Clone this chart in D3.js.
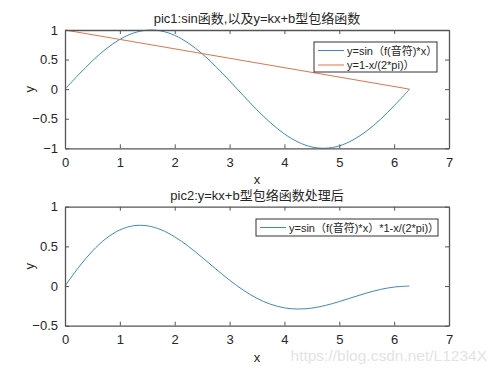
<!DOCTYPE html>
<html>
<head>
<meta charset="utf-8">
<script src="https://cdn.jsdelivr.net/npm/d3@7"></script>
<style>
  body { margin: 0; background: #fff; }
  text { font-family: "Liberation Sans", Arial, "Noto Sans CJK SC", sans-serif; fill: #262626; }
</style>
</head>
<body>
<div id="chart"></div>
<script>
// values
var xs = [0, 0.25, 0.5, 0.75, 1, 1.25, 1.5, 1.75, 2, 2.25, 2.5, 2.75, 3, 3.25, 3.5, 3.75,
          4, 4.25, 4.5, 4.75, 5, 5.25, 5.5, 5.75, 6, 6.25, 6.28];
var sinY = [0, 0.247, 0.479, 0.682, 0.841, 0.949, 0.997, 0.984, 0.909, 0.778, 0.598, 0.382, 0.141, -0.108, -0.351, -0.572,
            -0.757, -0.895, -0.978, -0.999, -0.959, -0.859, -0.706, -0.510, -0.279, -0.033, 0];
var envX = [0, 6.28];
var envY = [1, 0];
var prodY = [0, 0.237, 0.441, 0.600, 0.707, 0.760, 0.759, 0.710, 0.620, 0.500, 0.360, 0.215, 0.074, -0.052, -0.155, -0.230,
             -0.275, -0.290, -0.278, -0.244, -0.196, -0.141, -0.088, -0.043, -0.013, -0.001, 0];

var xTicks = [0, 1, 2, 3, 4, 5, 6, 7];
var yTicks1 = [-1, -0.5, 0, 0.5, 1];
var yTicks2 = [-0.5, 0, 0.5, 1];

var title1 = "pic1:sin函数,以及y=kx+b型包络函数";
var title2 = "pic2:y=kx+b型包络函数处理后";
var legend1 = ["y=sin（f(音符)*x）", "y=1-x/(2*pi)）"];
var legend2 = ["y=sin（f(音符)*x）*1-x/(2*pi)）"];

var blue = "#3f87bf", orange = "#d8764f", axisColor = "#555";

var W = 497, H = 373;
var svg = d3.select("#chart").append("svg")
    .attr("width", W)
    .attr("height", H);

function panel(top, bottom, yDomain, yTicks, title, series, legend, legBox) {
    var x = d3.scaleLinear().domain([0, 7]).range([65, 449]);
    var y = d3.scaleLinear().domain(yDomain).range([bottom, top]);
    var g = svg.append("g");

    // lines
    var line = d3.line()
        .x(function (d) { return x(d[0]); })
        .y(function (d) { return y(d[1]); })
        .curve(d3.curveCatmullRom);
    series.forEach(function (s) {
        g.append("path")
            .datum(d3.zip(s.x, s.y))
            .attr("d", line)
            .attr("fill", "none")
            .attr("stroke", s.color)
            .attr("stroke-width", 1);
    });

    // axes, ticks inward, box on all sides
    var fmt = function (d) { return d3.format("")(d); };
    g.append("g").attr("transform", "translate(0," + bottom + ")")
        .call(d3.axisBottom(x).tickValues(xTicks).tickSizeInner(-4).tickSizeOuter(0).tickPadding(9).tickFormat(fmt));
    g.append("g").attr("transform", "translate(0," + top + ")")
        .call(d3.axisTop(x).tickValues(xTicks).tickSizeInner(-4).tickSizeOuter(0).tickFormat(""));
    g.append("g").attr("transform", "translate(65,0)")
        .call(d3.axisLeft(y).tickValues(yTicks).tickSizeInner(-4).tickSizeOuter(0).tickPadding(7).tickFormat(fmt));
    g.append("g").attr("transform", "translate(449,0)")
        .call(d3.axisRight(y).tickValues(yTicks).tickSizeInner(-4).tickSizeOuter(0).tickFormat(""));
    g.selectAll(".domain").attr("stroke", axisColor).attr("stroke-width", 1.3);
    g.selectAll(".tick line").attr("stroke", axisColor);
    g.selectAll(".tick text").attr("font-size", 13).style("fill", "#262626")
        .attr("font-family", "Liberation Sans, Arial, sans-serif");

    // title and labels
    g.append("text").attr("x", 257).attr("y", top - 7)
        .attr("text-anchor", "middle").attr("font-size", 13).text(title);
    g.append("text").attr("x", 257).attr("y", bottom + 36)
        .attr("text-anchor", "middle").attr("font-size", 13).text("x");
    g.append("text")
        .attr("transform", "translate(34," + ((top + bottom) / 2) + ") rotate(-90)")
        .attr("text-anchor", "middle").attr("font-size", 13).text("y");

    // legend
    var lg = g.append("g");
    lg.append("rect")
        .attr("x", legBox.x).attr("y", legBox.y)
        .attr("width", legBox.w).attr("height", legBox.h)
        .attr("fill", "#fff").attr("stroke", "#333").attr("stroke-width", 1);
    legend.forEach(function (t, i) {
        var ly = legBox.y + 8.5 + i * 14.5;
        lg.append("line")
            .attr("x1", legBox.x + 4).attr("x2", legBox.x + 30)
            .attr("y1", ly).attr("y2", ly)
            .attr("stroke", series[i].color).attr("stroke-width", 1);
        lg.append("text")
            .attr("x", legBox.x + 33).attr("y", ly + 4)
            .attr("font-size", 11).text(t);
    });
}

panel(30, 148.3, [-1, 1], yTicks1, title1,
    [{ x: xs, y: sinY, color: blue }, { x: envX, y: envY, color: orange }],
    legend1, { x: 314, y: 42, w: 123, h: 30 });

panel(206.7, 325.7, [-0.5, 1], yTicks2, title2,
    [{ x: xs, y: prodY, color: blue }],
    legend2, { x: 256, y: 219, w: 182, h: 17 });

// watermark
svg.append("text")
    .attr("x", 487).attr("y", 361)
    .attr("text-anchor", "end")
    .attr("font-size", 15.5)
    .style("fill", "#e4e4e4")
    .text("https://blog.csdn.net/L1234X");
</script>
</body>
</html>
